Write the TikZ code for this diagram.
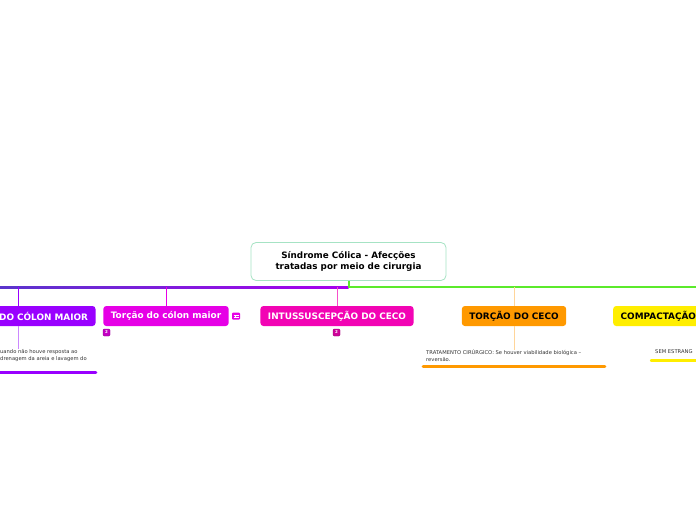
\documentclass[tikz,border=0pt]{standalone}
\usepackage{fontspec}
\setmainfont{DejaVu Sans}
\definecolor{cborder}{HTML}{A6E3C4}
\definecolor{cpurple}{HTML}{9900FF}
\definecolor{cpurplel}{HTML}{CC88FF}
\definecolor{cmagenta}{HTML}{E600E6}
\definecolor{cpink}{HTML}{F204B4}
\definecolor{corange}{HTML}{FF9900}
\definecolor{corangel}{HTML}{FFD59A}
\definecolor{cyellow}{HTML}{FFEE00}
\definecolor{cgreen}{HTML}{5BEA2B}
\definecolor{cbusl}{HTML}{5A35CC}
\definecolor{cbusr}{HTML}{A800EE}
\definecolor{ctext}{HTML}{333333}
\tikzset{
  topic/.style={rounded corners=3pt, minimum height=20pt, inner xsep=7.5pt, inner ysep=0pt,
    font=\fontsize{8.9}{10}\selectfont\bfseries, text=white},
  note/.style={font=\fontsize{5.2}{7}\selectfont, text=ctext, align=left, inner sep=0pt, anchor=north west},
  badge/.style={rounded corners=1.2pt, minimum size=7pt, inner sep=0pt, text=white,
    font=\fontsize{4}{4}\selectfont\bfseries},
  link/.style={line width=0.9pt}
}
\begin{document}
\begin{tikzpicture}[x=1pt,y=-1pt]
\useasboundingbox (0,0) rectangle (696,520);
\clip (0,0) rectangle (696,520);
\fill[white] (0,0) rectangle (696,520);
% central
\node[draw=cborder, line width=0.8pt, fill=white, rounded corners=5pt, minimum width=195pt, minimum height=38pt,
  align=center, font=\fontsize{8.8}{11}\selectfont\bfseries] (root) at (348.5,261.5) {Síndrome Cólica - Afecções\\tratadas por meio de cirurgia};
\coordinate (bus) at (348.5,287);
% bus lines
\shade[left color=cbusl, right color=cbusr] (0,286) rectangle (348.5,288);
\draw[cgreen, line width=2pt] (root.south) -- (bus) -- (700,287);
% children
\node[topic, fill=cpurple, text width=140pt, align=right] (c1) at (18,316) {DO CÓLON MAIOR};
\node[topic, fill=cmagenta] (c2) at (166,316) {Torção do cólon maior};
\node[topic, fill=cpink] (c3) at (337,316) {INTUSSUSCEPÇÃO DO CECO};
\node[topic, fill=corange, text=black] (c4) at (514,316) {TORÇÃO DO CECO};
\node[topic, fill=cyellow, text=black, anchor=west, text width=110pt, align=left] (c5) at (613,316) {COMPACTAÇÃO};
% connectors from bus
\draw[link, cpurple] (c1.north) -- (c1.north |- bus);
\draw[link, cmagenta] (c2.north) -- (c2.north |- bus);
\draw[link, cpink!70] (c3.north) -- (c3.north |- bus);
\draw[link, corangel] (c4.north) -- (c4.north |- bus);
% badges and icon
\node[badge, fill=cmagenta!85!black, draw=cmagenta!60!black, line width=0.3pt] (b2) at (106.5,332.5) {2};
\node[badge, fill=cpink!85!black, draw=cpink!60!black, line width=0.3pt] (b3) at (336.5,332.5) {2};
\node[rounded corners=1pt, fill=cmagenta, minimum width=8pt, minimum height=7pt, inner sep=0pt] (ic) at (236,316) {};
\draw[white, line width=0.6pt] ([xshift=-2.5pt,yshift=1pt]ic.center) -- ([xshift=2.5pt,yshift=1pt]ic.center)
  ([xshift=-2.5pt,yshift=-1.2pt]ic.center) -- ([xshift=2.5pt,yshift=-1.2pt]ic.center)
  ([xshift=-1pt,yshift=1pt]ic.center) -- ([xshift=-1pt,yshift=-1.2pt]ic.center);
% notes
\node[note] (n1) at (0,349) {uando não houve resposta ao\\ drenagem da areia e lavagem do};
\node[note] (n4) at (426,349) {TRATAMENTO CIRÚRGICO: Se houver viabilidade biológica –\\ reversão.};
\node[note] (n5) at (655,349) {SEM ESTRANG};
\draw[link, cpurplel] (c1.south) -- (c1.south |- n1.north);
\draw[link, corangel] (c4.south) -- ([yshift=-1pt]c4.south |- n4.north);
% underlines
\draw[cpurple, line width=2.6pt, line cap=round] (0,372.5) -- (96,372.5);
\draw[corange, line width=2.6pt, line cap=round] (423,366.5) -- (605,366.5);
\draw[cyellow, line width=2.4pt, line cap=round] (651,360.5) -- (700,360.5);
\end{tikzpicture}
\end{document}
